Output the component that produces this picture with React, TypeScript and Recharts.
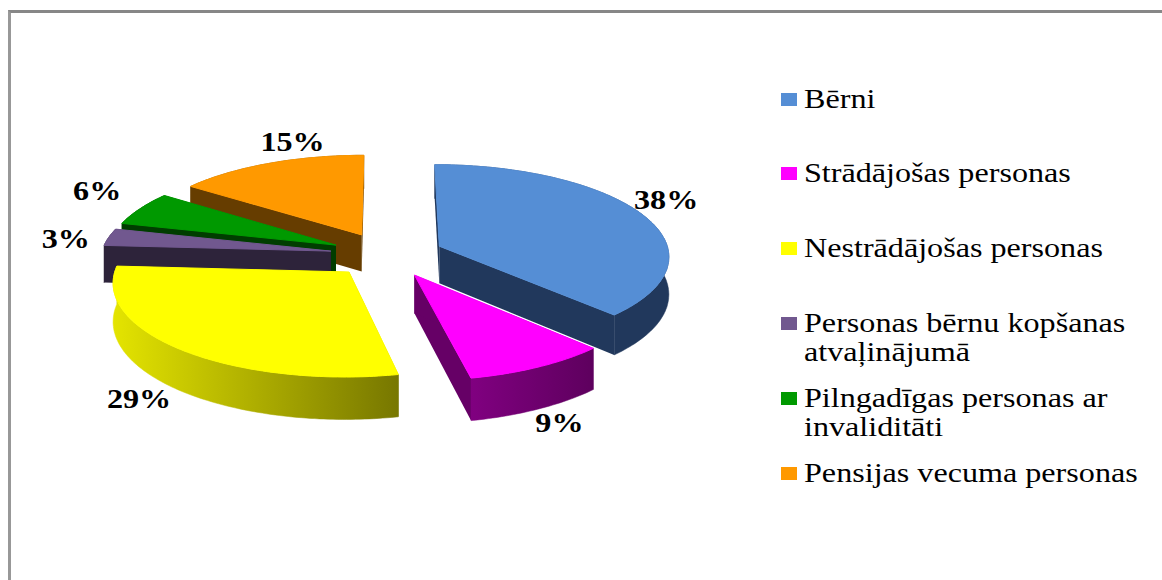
import React from "react";
import { PieChart, Pie, Legend } from "recharts";

const categories = ["Bērni", "Strādājošas personas", "Nestrādājošas personas", "Personas bērnu kopšanas atvaļinājumā", "Pilngadīgas personas ar invaliditāti", "Pensijas vecuma personas"];
const shares = [37.7, 9, 29.3, 3, 6, 15];
const topColors = ["#558ED5", "#FF00FF", "#FFFF00", "#71588F", "#009900", "#FF9900"];
const wallLeft = ["#21385C", "#800080", "#E4E400", "#2D233A", "#003D00", "#663D00"];
const wallRight = ["#21385C", "#5E005E", "#777700", "#2D233A", "#003D00", "#663D00"];
const cutWall = ["#21385C", "#660066", "#777700", "#2D233A", "#003D00", "#663D00"];
const legendLines = [["Bērni"], ["Strādājošas personas"], ["Nestrādājošas personas"], ["Personas bērnu kopšanas", "atvaļinājumā"], ["Pilngadīgas personas ar", "invaliditāti"], ["Pensijas vecuma personas"]];

const legendTops = [99, 173, 248, 323, 398, 473];
const labelNudge = [[25, -14], [21, 56], [-41, 50], [-43, 2], [-43, -18], [23, -21]];
const EXPLODE = 57, TILT = 0.396, PERSP = 0.098, DEPTH = 37.5, STRETCH = 1.19;
const SERIF = "'Liberation Serif', serif";

const rows = categories.map((name, i) => ({ name, value: shares[i], order: i })).reverse();

function projector(cx: number, cy: number, R: number, mid: number) {
  const m = (mid * Math.PI) / 180;
  const ox = EXPLODE * Math.cos(m), oy = EXPLODE * Math.sin(m);
  return (r: number, deg: number) => {
    const a = (deg * Math.PI) / 180;
    const X = ox + r * Math.cos(a), Y = oy + r * Math.sin(a);
    const s = 1 / (1 + (PERSP * Y) / R);
    return { x: cx + X * s, y: cy - TILT * Y * s, d: DEPTH * s };
  };
}

const pathOf = (pts: { x: number; y: number }[]) => "M" + pts.map((p) => `${p.x.toFixed(1)},${p.y.toFixed(1)}`).join("L") + "Z";
const drop = (p: { x: number; y: number; d: number }) => ({ x: p.x, y: p.y + p.d });

function makeSlice(front: boolean) {
  return (props: any) => {
    const { cx, cy, outerRadius: R, startAngle, endAngle, payload } = props;
    const order = payload?.order ?? props.order;
    if ((order === 1) !== front) return <g />;
    const lo = Math.min(startAngle, endAngle), hi = Math.max(startAngle, endAngle);
    const P = projector(cx, cy, R, (lo + hi) / 2);
    const arc: { x: number; y: number; d: number }[] = [];
    for (let a = lo; a < hi; a += 1) arc.push(P(R, a));
    arc.push(P(R, hi));
    const apex = P(0, lo);
    const id = `wall-${order}`;
    const wall = (p: typeof arc[0], q: typeof arc[0]) => pathOf([p, q, drop(q), drop(p)]);
    return (
      <g>
        <defs>
          <linearGradient id={id} x1="0" x2="1" y1="0" y2="0">
            <stop offset="0" stopColor={wallLeft[order]} />
            <stop offset="1" stopColor={wallRight[order]} />
          </linearGradient>
        </defs>
        <path d={wall(apex, arc[0])} fill={cutWall[order]} />
        <path d={wall(apex, arc[arc.length - 1])} fill={cutWall[order]} />
        <path d={pathOf([...arc, ...arc.slice().reverse().map(drop)])} fill={`url(#${id})`} stroke={`url(#${id})`} strokeWidth={0.5} />
        <path d={pathOf([apex, ...arc])} fill={topColors[order]} stroke={topColors[order]} strokeWidth={1} strokeLinejoin="round" />
      </g>
    );
  };
}

const renderLabel = (props: any) => {
  const { cx, cy, outerRadius: R, midAngle, payload, value } = props;
  const order = payload?.order ?? props.order;
  const p = projector(cx, cy, R, midAngle)(R, midAngle);
  const [nx, ny] = labelNudge[order];
  return (
    <text
      transform={`translate(${p.x + nx},${p.y + ny + 9}) scale(${STRETCH},1)`}
      textAnchor="middle"
      fontFamily={SERIF}
      fontWeight="bold"
      fontSize={27}
      fill="#000"
    >
      {Math.round(value)}%
    </text>
  );
};

const legendContent = () => (
  <div style={{ position: "relative", width: 1162, height: 580 }}>
    {legendLines.map((lines, i) => (
      <React.Fragment key={i}>
        <div style={{ position: "absolute", left: 781, top: legendTops[i] - 6, width: 16, height: 13, background: topColors[i] }} />
        {lines.map((line, j) => (
          <div
            key={j}
            style={{
              position: "absolute",
              left: 804,
              top: legendTops[i] + j * 29 - 15,
              fontFamily: SERIF,
              fontSize: 27,
              lineHeight: "30px",
              whiteSpace: "nowrap",
              color: "#000",
              transform: `scaleX(${STRETCH})`,
              transformOrigin: "left center",
            }}
          >
            {line}
          </div>
        ))}
      </React.Fragment>
    ))}
  </div>
);

export default function App() {
  return (
    <div style={{ position: "absolute", left: 0, top: 0, width: 1162, height: 580, overflow: "hidden", background: "#fff" }}>
      <div style={{ position: "absolute", left: 8, top: 10, width: 1154, height: 570, boxSizing: "border-box", borderTop: "3px solid #878787", borderLeft: "3px solid #989898" }} />
      <PieChart width={1162} height={580} margin={{ top: 0, right: 0, bottom: 0, left: 0 }}>
        <Pie
          data={rows}
          dataKey="value"
          nameKey="name"
          cx={387}
          cy={254.6}
          innerRadius={0}
          outerRadius={230}
          startAngle={90}
          endAngle={450}
          stroke="none"
          shape={makeSlice(false)}
          label={renderLabel}
          labelLine={false}
          isAnimationActive={false}
        />
        <Pie
          data={rows}
          dataKey="value"
          nameKey="name"
          cx={387}
          cy={254.6}
          innerRadius={0}
          outerRadius={230}
          startAngle={90}
          endAngle={450}
          stroke="none"
          shape={makeSlice(true)}
          label={false}
          labelLine={false}
          isAnimationActive={false}
        />
        <Legend content={legendContent} wrapperStyle={{ position: "absolute", left: 0, top: 0, width: 1162, height: 580 }} />
      </PieChart>
    </div>
  );
}
